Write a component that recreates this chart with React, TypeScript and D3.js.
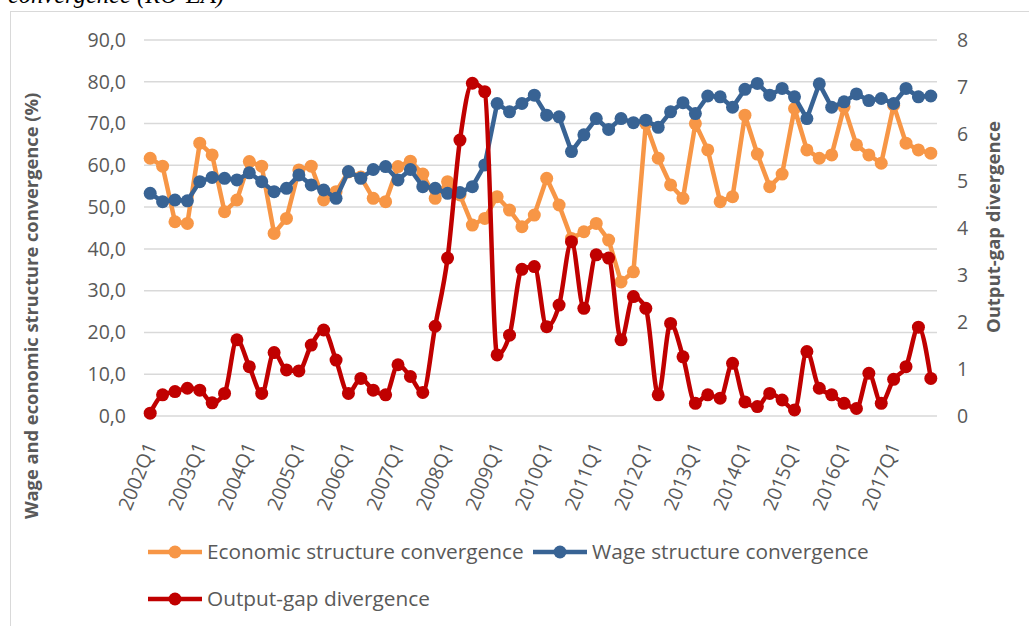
import React from 'react';
import * as d3 from 'd3';

// quarters 2002Q1 .. 2017Q4
const years = d3.range(2002, 2018);
const quarters = years.flatMap(y => [1, 2, 3, 4].map(q => `${y}Q${q}`));

const economic = [
    61.7, 59.8, 46.5, 46.1, 65.3, 62.5, 48.9, 51.7, 60.9, 59.8,
    43.7, 47.3, 58.9, 59.8, 51.7, 53.7, 58.4, 57.2, 52.1, 51.3,
    59.7, 61.0, 57.9, 52.1, 56.1, 52.9, 45.7, 47.3, 52.5, 49.3,
    45.3, 48.1, 56.9, 50.5, 42.5, 44.1, 46.1, 42.1, 32.1, 34.5,
    70.0, 61.7, 55.3, 52.1, 70.0, 63.7, 51.3, 52.5, 72.0, 62.7,
    54.9, 57.9, 73.6, 63.7, 61.7, 62.5, 74.0, 64.9, 62.5, 60.5,
    74.4, 65.3, 63.7, 62.9
];

const wage = [
    53.3, 51.3, 51.7, 51.5, 56.1, 57.1, 56.9, 56.5, 58.2, 56.1,
    53.7, 54.5, 57.7, 55.3, 54.1, 52.1, 58.5, 56.9, 59.0, 59.7,
    56.5, 59.0, 54.9, 54.5, 53.3, 53.5, 54.9, 60.1, 74.8, 72.8,
    74.8, 76.8, 72.0, 71.6, 63.3, 67.3, 71.2, 68.6, 71.2, 70.2,
    70.8, 69.1, 72.8, 75.0, 72.4, 76.6, 76.4, 73.9, 78.2, 79.6,
    76.8, 78.4, 76.4, 71.2, 79.5, 73.9, 75.2, 77.1, 75.5, 76.0,
    74.8, 78.4, 76.4, 76.6
];

const outputGap = [
    0.06, 0.45, 0.52, 0.59, 0.55, 0.28, 0.48, 1.62, 1.05, 0.48,
    1.35, 0.98, 0.96, 1.51, 1.83, 1.19, 0.48, 0.80, 0.55, 0.45,
    1.09, 0.84, 0.50, 1.91, 3.36, 5.87, 7.08, 6.90, 1.30, 1.72,
    3.12, 3.18, 1.90, 2.36, 3.71, 2.29, 3.43, 3.36, 1.62, 2.54,
    2.29, 0.45, 1.97, 1.26, 0.27, 0.45, 0.38, 1.12, 0.30, 0.20,
    0.48, 0.34, 0.13, 1.37, 0.59, 0.45, 0.27, 0.16, 0.91, 0.27,
    0.78, 1.05, 1.89, 0.80
];

const leftTicks = [0, 10, 20, 30, 40, 50, 60, 70, 80, 90];
const rightTicks = [0, 1, 2, 3, 4, 5, 6, 7, 8];

const ORANGE = '#F79646';
const BLUE = '#386394';
const RED = '#C00000';
const GRID = '#D9D9D9';
const TEXT = '#595959';
const FONT = "'Open Sans', sans-serif";

const W = 1029;
const H = 626;
const plot = { left: 144, right: 937, top: 40, bottom: 416 };

const App: React.FC = () => {
    const x = d3.scaleBand<string>()
        .domain(quarters)
        .range([plot.left, plot.right]);
    const cx = (q: string) => (x(q) || 0) + x.bandwidth() / 2;

    const yLeft = d3.scaleLinear().domain([0, 90]).range([plot.bottom, plot.top]);
    const yRight = d3.scaleLinear().domain([0, 8]).range([plot.bottom, plot.top]);

    const lineLeft = d3.line<number>()
        .x((_, i) => cx(quarters[i]))
        .y(d => yLeft(d));
    // output gap series is drawn smoothed, like the source
    const lineRight = d3.line<number>()
        .x((_, i) => cx(quarters[i]))
        .y(d => yRight(d))
        .curve(d3.curveMonotoneX);

    const series = [
        { name: 'eco', values: economic, color: ORANGE, path: lineLeft(economic), y: yLeft },
        { name: 'wage', values: wage, color: BLUE, path: lineLeft(wage), y: yLeft },
        { name: 'gap', values: outputGap, color: RED, path: lineRight(outputGap), y: yRight },
    ];

    const legend = [
        { label: 'Economic structure convergence', color: ORANGE, x: 148, y: 552 },
        { label: 'Wage structure convergence', color: BLUE, x: 533, y: 552 },
        { label: 'Output-gap divergence', color: RED, x: 148, y: 599 },
    ];

    return (
        <svg width={W} height={H} style={{ position: 'absolute', left: 0, top: 0 }}>
            <rect x={0} y={0} width={W} height={H} fill="#fff" />
            <text x={8} y={3} fontFamily="'Liberation Serif', serif" fontStyle="italic" fontSize={24.5} fill="#000">
                convergence (RO-EA)
            </text>
            <rect x={10.5} y={11.5} width={W + 20} height={H + 20} fill="none" stroke="#D9D9D9" strokeWidth={1} />

            {/* grid */}
            {leftTicks.map(t => (
                <line key={t} x1={plot.left} x2={plot.right} y1={yLeft(t)} y2={yLeft(t)}
                    stroke={GRID} strokeWidth={1.5} />
            ))}

            {/* left ticks */}
            {leftTicks.map(t => (
                <text key={t} x={126} y={yLeft(t)} dy="0.35em" textAnchor="end"
                    fontFamily={FONT} fontSize={19.5} fill={TEXT}>
                    {t.toFixed(1).replace('.', ',')}
                </text>
            ))}

            {/* right ticks */}
            {rightTicks.map(t => (
                <text key={t} x={957} y={yRight(t)} dy="0.35em" textAnchor="start"
                    fontFamily={FONT} fontSize={19.5} fill={TEXT}>
                    {t}
                </text>
            ))}

            {/* x labels */}
            {quarters.filter((_, i) => i % 4 === 0).map(q => {
                const px = cx(q) + 7;
                const py = 446;
                return (
                    <text key={q} x={px} y={py} textAnchor="end" transform={`rotate(-68, ${px}, ${py})`}
                        fontFamily={FONT} fontSize={19.5} fill={TEXT}>
                        {q}
                    </text>
                );
            })}

            {/* axis titles */}
            <text transform="translate(38, 306) rotate(-90)" textAnchor="middle"
                fontFamily={FONT} fontWeight="bold" fontSize={18.3} fill={TEXT}>
                Wage and economic structure convergence (%)
            </text>
            <text transform="translate(1000, 227) rotate(-90)" textAnchor="middle"
                fontFamily={FONT} fontWeight="bold" fontSize={18.5} fill={TEXT}>
                Output-gap divergence
            </text>

            {/* series */}
            {series.map(s => (
                <g key={s.name}>
                    <path d={s.path || ''} fill="none" stroke={s.color} strokeWidth={4.5}
                        strokeLinejoin="round" strokeLinecap="round" />
                    {s.values.map((v, i) => (
                        <circle key={i} cx={cx(quarters[i])} cy={s.y(v)} r={6.5} fill={s.color} />
                    ))}
                </g>
            ))}

            {/* legend */}
            {legend.map(l => (
                <g key={l.label}>
                    <line x1={l.x} x2={l.x + 54} y1={l.y} y2={l.y} stroke={l.color} strokeWidth={4.5} />
                    <circle cx={l.x + 27} cy={l.y} r={6.5} fill={l.color} />
                    <text x={l.x + 59} y={l.y} dy="0.35em" fontFamily={FONT} fontSize={20.8} fill={TEXT}>
                        {l.label}
                    </text>
                </g>
            ))}
        </svg>
    );
};

export default App;
